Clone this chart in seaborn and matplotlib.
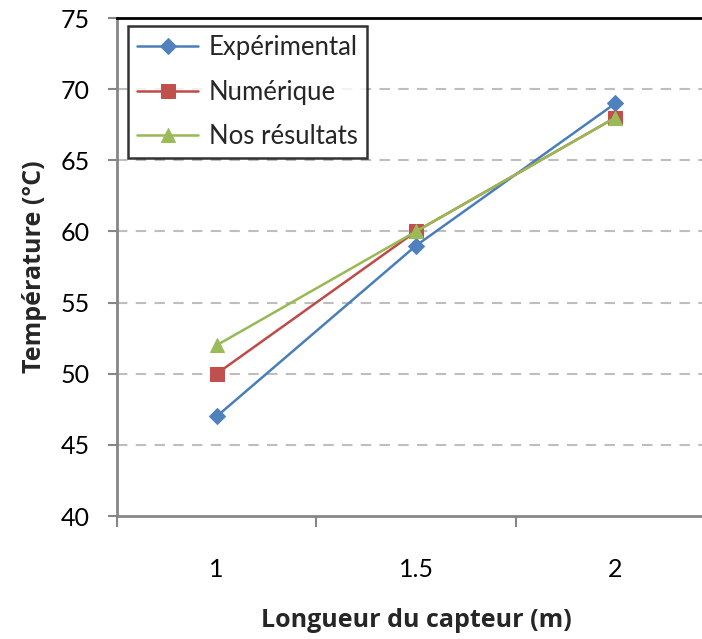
import matplotlib
matplotlib.use("Agg")
import matplotlib.pyplot as plt
import seaborn as sns
import pandas as pd
from matplotlib.ticker import FixedLocator

categories = ["1", "1.5", "2"]
experimental = [47, 59, 69]
numerique = [50, 60, 68]
nos_resultats = [52, 60, 68]
series_names = ["Expérimental", "Numérique", "Nos résultats"]

sns.set_theme(style="white")
plt.rcParams["font.family"] = ["Lato", "DejaVu Sans"]

rows = []
for name, vals in zip(series_names, [experimental, numerique, nos_resultats]):
    for c, v in zip(categories, vals):
        rows.append({"cat": c, "val": v, "series": name})
df = pd.DataFrame(rows)

fig = plt.figure(figsize=(7.02, 6.39), dpi=100)
ax = fig.add_axes([117/702, 1-516/639, (715-117)/702, (516-18)/639])

colors = {"Expérimental": "#4A7EBB", "Numérique": "#BE4B48", "Nos résultats": "#98B954"}
mfc = {"Expérimental": "#4F81BD", "Numérique": "#C0504D", "Nos résultats": "#9BBB59"}
markers = {"Expérimental": "D", "Numérique": "s", "Nos résultats": "^"}
msize = {"Expérimental": 8, "Numérique": 10, "Nos résultats": 10}

for name in series_names:
    sub = df[df.series == name]
    sns.lineplot(data=sub, x="cat", y="val", ax=ax, color=colors[name], lw=1.8,
                 marker=markers[name], markersize=msize[name],
                 markerfacecolor=mfc[name], markeredgecolor=mfc[name],
                 label=name, sort=False)

ax.set_xlim(-0.5, 2.5)
ax.set_ylim(40, 75)
ax.set_yticks([40, 45, 50, 55, 60, 65, 70, 75])
ax.set_yticklabels(["40", "45", "50", "55", "60", "65", "70", "75"])
for y in [45, 50, 55, 60, 65, 70]:
    ax.axhline(y, color="#BEBEBE", lw=1.5, ls=(0, (5, 4)), zorder=0)

ax.xaxis.set_minor_locator(FixedLocator([-0.5, 0.5, 1.5, 2.5]))
ax.tick_params(axis="x", which="major", length=0, pad=30, labelsize=18, colors="black")
ax.tick_params(axis="x", which="minor", length=8, width=1.5, color="#868686", direction="out", bottom=True)
ax.tick_params(axis="y", which="major", length=6.5, width=1.5, color="#868686", direction="out", left=True, pad=13, labelsize=18, labelcolor="black")

for side in ["left", "bottom"]:
    ax.spines[side].set_color("#868686")
    ax.spines[side].set_linewidth(2)
ax.spines["top"].set_color("black")
ax.spines["top"].set_linewidth(2)
ax.spines["right"].set_visible(False)

lab_font = dict(family=["Open Sans", "DejaVu Sans"], fontsize=18, fontweight="bold")
ax.set_xlabel("Longueur du capteur (m)", labelpad=20, **lab_font)
ax.set_ylabel("Température (°C)", labelpad=10, **lab_font)

leg = ax.legend(loc="upper left", bbox_to_anchor=(0.018, 0.983), fontsize=18.5, frameon=True,
                fancybox=False, edgecolor="black", handlelength=2.4, borderpad=0.35,
                labelspacing=0.75, handletextpad=0.4, borderaxespad=0)
leg.get_frame().set_linewidth(1.8)

fig.savefig("out.png", dpi=100)
